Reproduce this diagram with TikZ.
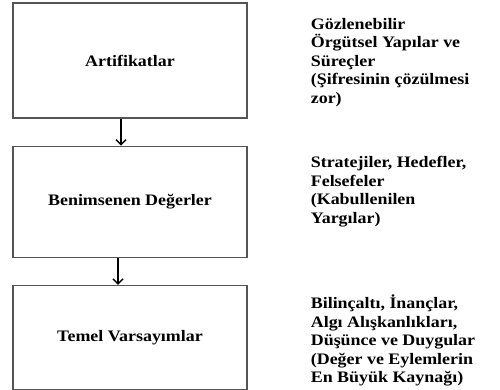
\documentclass[tikz,border=0pt]{standalone}
\usepackage{fontspec}
\setmainfont{Liberation Serif}[FakeStretch=1.12]
\usepackage{tikz}
\usetikzlibrary{arrows.meta,positioning}
\definecolor{boxline}{HTML}{555555}

\begin{document}
\begin{tikzpicture}[font=\fontsize{16bp}{18.5bp}\selectfont\bfseries,node distance=27bp]
\useasboundingbox (0,0) rectangle (500bp,-390bp);
\tikzset{layer/.style={draw=boxline,line width=1.3pt,minimum width=234bp,inner sep=0pt},
  note/.style={align=left,inner sep=0pt,anchor=west},
  flow/.style={-{Straight Barb[length=5bp,width=10bp]},line width=1.5pt}}
\node[layer,minimum height=115bp] (art) at (130bp,-60.5bp) {Artifikatlar};
\node[layer,minimum height=111bp,below=of art] (deg) {Benimsenen Değerler};
\node[layer,minimum height=104bp,below=of deg] (vars) {Temel Varsayımlar};
\node[note,right=63bp of art,yshift=-2bp] (artnote)
  {Gözlenebilir\\Örgütsel Yapılar ve\\Süreçler\\(Şifresinin çözülmesi\\zor)};
\node[note,right=63bp of deg,yshift=10bp] (degnote)
  {Stratejiler, Hedefler,\\Felsefeler\\(Kabullenilen\\Yargılar)};
\node[note,right=63bp of vars,yshift=-3bp] (varsnote)
  {Bilinçaltı, İnançlar,\\Algı Alışkanlıkları,\\Düşünce ve Duygular\\(Değer ve Eylemlerin\\En Büyük Kaynağı)};
\draw[flow] ([xshift=-9bp]art.south) -- ([xshift=-9bp]deg.north);
\draw[flow] ([xshift=-12bp]deg.south) -- ([xshift=-12bp]vars.north);
\end{tikzpicture}
\end{document}
